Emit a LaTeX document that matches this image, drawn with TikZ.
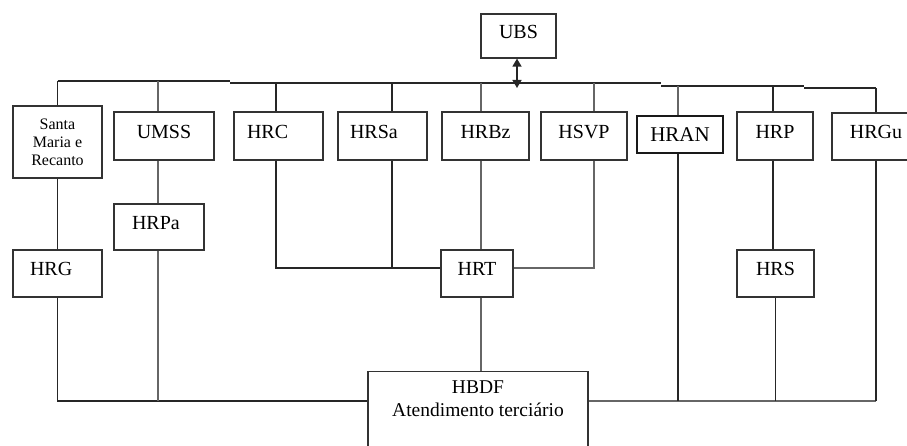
\documentclass[tikz,border=0pt]{standalone}
\usepackage{fontspec}
\setmainfont{Liberation Serif}
\usetikzlibrary{arrows.meta}
\tikzset{
  frame/.style={draw=black!80, line width=1.2pt, fill=white, inner sep=0pt},
  box/.style={frame, font=\fontsize{20}{24}\selectfont, text height=12.5pt, text depth=8pt},
  lbox/.style={box, align=left},
  ln/.style={line width=1.5pt, draw=black!85},
  lnl/.style={line width=1.1pt, draw=black!60},
  dbl/.style={ln, {Triangle[width=9pt,length=8pt]}-{Triangle[width=9pt,length=8pt]}},
}
\begin{document}
\begin{tikzpicture}[x=1pt,y=-1pt]
\useasboundingbox (0,0) rectangle (907,446);
\clip (0,0) rectangle (907,446);
% named bus levels
\coordinate (busA) at (0,81);
\coordinate (busB) at (0,83);
\coordinate (busC) at (0,86);
\coordinate (busD) at (0,88);
\coordinate (busBot) at (0,401);
\coordinate (midH) at (0,268);
\coordinate (j1) at (230,81);
\coordinate (j2) at (230,83);
\coordinate (j3) at (661,83);
\coordinate (j4) at (661,86);
\coordinate (j5) at (804,86);
\coordinate (j6) at (804,88);
\coordinate (arrEnd) at (517,88);
% boxes
\node[box, minimum width=75pt, minimum height=44pt] (ubs) at (518.5,36) {UBS};
\node[frame, minimum width=89pt, minimum height=72pt, align=center,
      font=\fontsize{16}{18}\selectfont] (sm) at (57.5,142) {Santa\\Maria e\\Recanto};
\node[box, minimum width=100pt, minimum height=48pt] (umss) at (164,136) {UMSS};
\node[lbox, text width=63pt, inner xsep=13pt, minimum height=48pt] (hrc) at (278.5,136) {HRC};
\node[lbox, text width=65pt, inner xsep=12pt, minimum height=48pt] (hrsa) at (382.5,136) {HRSa};
\node[box, minimum width=87pt, minimum height=48pt] (hrbz) at (485.5,136) {HRBz};
\node[box, minimum width=86pt, minimum height=48pt] (hsvp) at (584,136) {HSVP};
\node[frame, line width=1.5pt, draw=black!90, font=\fontsize{21}{24}\selectfont,
      text height=13.5pt, text depth=0pt, minimum width=86pt, minimum height=37pt] (hran) at (680,134.5) {HRAN};
\node[box, minimum width=76pt, minimum height=48pt] (hrp) at (775,136) {HRP};
\node[box, minimum width=88pt, minimum height=47pt] (hrgu) at (876,136.5) {HRGu};
\node[lbox, text width=54pt, inner xsep=18pt, minimum height=46pt] (hrpa) at (159,227) {HRPa};
\node[lbox, text width=55pt, inner xsep=17pt, minimum height=47pt] (hrg) at (57.5,273.5) {HRG};
\node[box, minimum width=72pt, minimum height=47pt] (hrt) at (477,273.5) {HRT};
\node[box, minimum width=77pt, minimum height=47pt] (hrs) at (775.5,273.5) {HRS};
\node[frame, minimum width=220pt, minimum height=100pt, anchor=north] (hbdf) at (478,371) {};
\node[inner sep=0pt, anchor=north, align=center, font=\fontsize{19.5}{23}\selectfont]
      (hbdft) at ([yshift=-10pt]hbdf.north) {HBDF\\Atendimento terciário};
% top bus
\draw[ln] (sm.north |- busA) -- (j1) (j2) -- (j3) (j4) -- (j5) (j6) -- (hrgu.north |- busD);
\draw[dbl] ([xshift=-1.5pt]ubs.south) -- (arrEnd);
% drops from bus
\draw[ln] (sm.north) -- (sm.north |- busA);
\draw[lnl] ([xshift=-6pt]umss.north) -- ([xshift=-6pt]umss.north |- busA);
\draw[ln] ([xshift=-2.5pt]hrc.north) -- ([xshift=-2.5pt]hrc.north |- busB);
\draw[ln] ([xshift=9.5pt]hrsa.north) -- ([xshift=9.5pt]hrsa.north |- busB);
\draw[lnl] ([xshift=-4.5pt]hrbz.north) -- ([xshift=-4.5pt]hrbz.north |- busB);
\draw[lnl] ([xshift=10pt]hsvp.north) -- ([xshift=10pt]hsvp.north |- busB);
\draw[lnl] ([xshift=-2pt]hran.north) -- ([xshift=-2pt]hran.north |- busC);
\draw[ln] ([xshift=-2pt]hrp.north) -- ([xshift=-2pt]hrp.north |- busC);
\draw[ln] (hrgu.north) -- (hrgu.north |- busD);
% lower connections
\draw[ln] (sm.south) -- (hrg.north);
\draw[ln] (hrg.south) |- (hbdf.west |- busBot);
\draw[lnl] ([xshift=-6pt]umss.south) -- ([xshift=-1pt]hrpa.north);
\draw[lnl] ([xshift=-1pt]hrpa.south) -- ([xshift=-1pt]hrpa.south |- busBot);
\draw[ln] ([xshift=-2.5pt]hrc.south) |- (hrt.west |- midH);
\draw[ln] ([xshift=9.5pt]hrsa.south) -- ([xshift=9.5pt]hrsa.south |- midH);
\draw[lnl] ([xshift=-4.5pt]hrbz.south) -- ([xshift=-4.5pt]hrbz.south |- hrt.north);
\draw[lnl] ([xshift=10pt]hsvp.south) |- (hrt.east |- midH);
\draw[lnl] ([xshift=4pt]hrt.south) -- ([xshift=4pt]hrt.south |- hbdf.north);
\draw[lnl] (hbdf.east |- busBot) -- (hrgu.south |- busBot);
\draw[ln] (hrgu.south) -- (hrgu.south |- busBot);
\draw[ln] ([xshift=-2pt]hran.south) -- ([xshift=-2pt]hran.south |- busBot);
\draw[ln] ([xshift=-2pt]hrp.south) -- ([xshift=-2.5pt]hrs.north);
\draw[ln] (hrs.south) -- (hrs.south |- busBot);
\end{tikzpicture}
\end{document}
